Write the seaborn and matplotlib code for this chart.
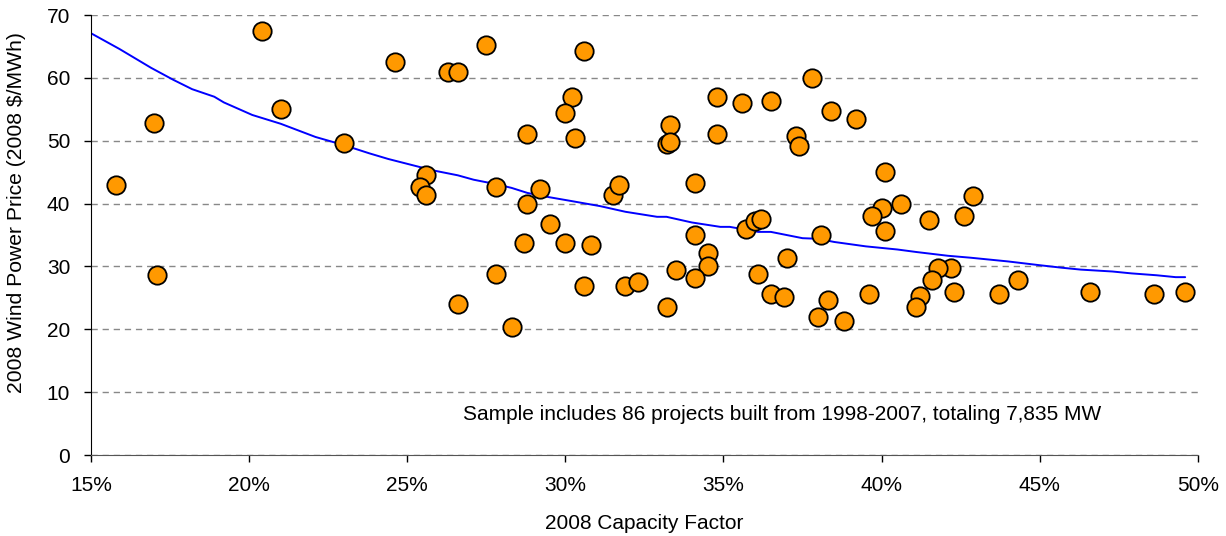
import numpy as np
import pandas as pd
import seaborn as sns
import matplotlib.pyplot as plt
from matplotlib.ticker import PercentFormatter, MultipleLocator

# capacity factor (%) and price (2008 $/MWh) of each project
capacity_factor = [
    15.8, 17.0, 17.1, 20.4, 21.0, 23.0, 24.6, 26.3, 26.6, 27.5,
    25.6, 25.4, 25.6, 27.8, 30.6, 30.2, 30.0, 30.3, 28.8, 28.8,
    29.2, 29.5, 28.7, 30.0, 30.8, 31.5, 31.7, 33.3, 33.2, 33.3,
    34.1, 34.8, 34.8, 35.6, 36.5, 37.3, 37.4, 37.8, 35.7, 36.0,
    36.2, 34.1, 38.1, 38.4, 39.2, 40.1, 42.9, 42.6, 41.5, 40.6,
    40.0, 39.7, 40.1, 27.8, 26.6, 28.3, 30.6, 31.9, 32.3, 33.2,
    33.5, 34.5, 34.5, 34.1, 37.0, 36.1, 36.5, 36.9, 38.0, 38.3,
    38.8, 39.6, 42.2, 41.8, 41.6, 41.2, 41.1, 42.3, 43.7, 44.3,
    46.6, 48.6, 49.6,
]
price = [
    43.0, 52.9, 28.7, 67.4, 55.1, 49.7, 62.5, 60.9, 60.9, 65.2,
    44.6, 42.6, 41.4, 42.6, 64.3, 56.9, 54.4, 50.4, 51.0, 39.9,
    42.4, 36.8, 33.7, 33.7, 33.4, 41.4, 43.0, 52.5, 49.5, 49.8,
    43.3, 56.9, 51.0, 56.0, 56.3, 50.7, 49.2, 60.0, 36.0, 37.2,
    37.5, 35.0, 35.0, 54.8, 53.5, 45.1, 41.2, 38.0, 37.4, 40.0,
    39.3, 38.0, 35.6, 28.8, 24.1, 20.4, 26.9, 26.9, 27.6, 23.5,
    29.4, 32.2, 30.0, 28.1, 31.3, 28.8, 25.7, 25.1, 22.0, 24.6,
    21.4, 25.7, 29.7, 29.8, 27.8, 25.3, 23.5, 26.0, 25.7, 27.8,
    26.0, 25.7, 26.0,
]

# fitted trend line
trend_x = [
    15.0, 15.9, 16.9, 17.6, 18.2, 18.9, 19.2, 20.1, 21.0, 22.1,
    23.0, 23.8, 24.4, 25.1, 25.8, 26.6, 27.1, 27.8, 28.3, 28.8,
    29.4, 30.2, 31.1, 31.9, 32.9, 33.2, 34.0, 34.9, 35.2, 36.1,
    36.5, 37.5, 38.0, 38.5, 39.5, 40.5, 41.1, 42.1, 42.8, 43.4,
    44.0, 45.0, 45.7, 46.3, 47.3, 47.9, 48.7, 49.3, 49.6,
]
trend_y = [
    67.1, 64.6, 61.6, 59.7, 58.2, 57.0, 56.1, 54.1, 52.7, 50.6,
    49.3, 48.0, 47.1, 46.2, 45.3, 44.5, 43.8, 43.1, 42.5, 41.7,
    41.1, 40.4, 39.6, 38.7, 37.9, 37.9, 37.0, 36.3, 36.3, 35.5,
    35.5, 34.5, 34.4, 33.9, 33.2, 32.7, 32.3, 31.7, 31.4, 31.1,
    30.8, 30.2, 29.8, 29.5, 29.2, 28.9, 28.6, 28.3, 28.3,
]

note = "Sample includes 86 projects built from 1998-2007, totaling 7,835 MW"

projects = pd.DataFrame({"cf": capacity_factor, "price": price})
trend = pd.DataFrame({"cf": trend_x, "price": trend_y})

sns.set_style("white")
plt.rcParams['font.family'] = ['Liberation Sans', 'DejaVu Sans']
plt.rcParams['text.color'] = 'black'
plt.rcParams['axes.labelcolor'] = 'black'

fig = plt.figure(figsize=(12.26, 5.36), dpi=100)
ax = fig.add_axes([0.0742, 0.151, 0.9028, 0.821])

ax.yaxis.grid(True, linestyle=(0, (4.5, 3.5)), color='#888888', linewidth=1.0)
ax.set_axisbelow(True)

sns.lineplot(data=trend, x="cf", y="price", color='#0000FF', linewidth=1.4,
             ax=ax, zorder=2, sort=False)
sns.scatterplot(data=projects, x="cf", y="price", color='#FF9900', s=175,
                edgecolor='black', linewidth=1.3, ax=ax, zorder=3)

ax.set_xlim(15, 50)
ax.set_ylim(0, 70)
ax.xaxis.set_major_locator(MultipleLocator(5))
ax.yaxis.set_major_locator(MultipleLocator(10))
ax.xaxis.set_major_formatter(PercentFormatter(100, decimals=0))

for side in ['top', 'right']:
    ax.spines[side].set_visible(False)
ax.spines['left'].set_color('black')
ax.spines['bottom'].set_color('#555555')

ax.tick_params(axis='both', direction='out', length=5, width=1, labelsize=15,
               colors='black', left=True, bottom=True)
ax.tick_params(axis='x', pad=10)
ax.tick_params(axis='y', pad=10)

ax.set_xlabel("2008 Capacity Factor", fontsize=15)
ax.set_ylabel("2008 Wind Power Price (2008 $/MWh)", fontsize=15.2)
ax.xaxis.set_label_coords(0.5, -0.135)
ax.yaxis.set_label_coords(-0.059, 0.552)

ax.text(26.75, 6.4, note, fontsize=15, va='center', ha='left')

fig.savefig("out.png", dpi=100)
